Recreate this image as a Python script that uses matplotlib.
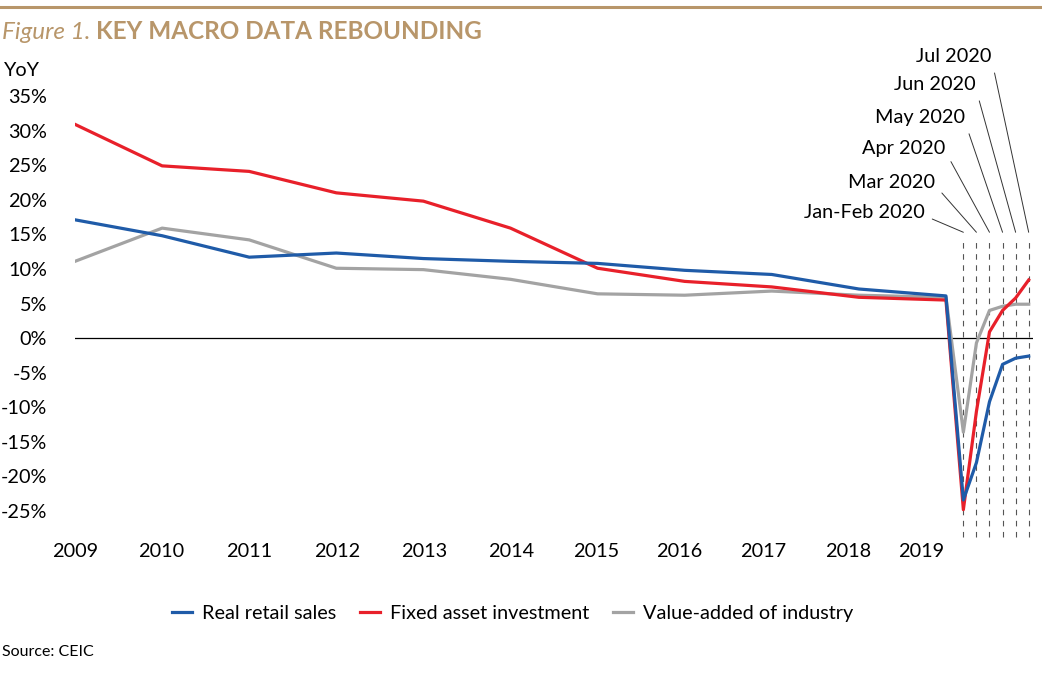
import numpy as np
import matplotlib
matplotlib.use("Agg")
import matplotlib.pyplot as plt

plt.rcParams['font.family'] = ['Lato', 'DejaVu Sans']

# Annual data 2009-2019, then monthly (YTD) 2020
years = ['2009', '2010', '2011', '2012', '2013', '2014', '2015', '2016', '2017', '2018', '2019']
months = ['Jan-Feb 2020', 'Mar 2020', 'Apr 2020', 'May 2020', 'Jun 2020', 'Jul 2020']

retail_annual = [17.1, 14.8, 11.7, 12.3, 11.5, 11.1, 10.8, 9.8, 9.2, 7.1, 6.1]
retail_monthly = [-23.4, -18.0, -9.2, -3.8, -2.9, -2.6]

fai_annual = [30.9, 24.9, 24.1, 21.0, 19.8, 15.9, 10.1, 8.2, 7.4, 5.9, 5.5]
fai_monthly = [-24.8, -10.6, 0.9, 4.0, 5.8, 8.4]

vai_annual = [11.1, 15.9, 14.2, 10.1, 9.9, 8.5, 6.4, 6.2, 6.8, 6.2, 5.9]
vai_monthly = [-13.6, -0.7, 4.0, 4.6, 4.9, 4.9]

# x layout: one unit per year, months squeezed after 2019
x_years = np.arange(len(years))
x_months = 10.2 + 0.15 * np.arange(len(months))
x_all = np.concatenate([x_years, x_months])
# year label positions as drawn in the original (date axis offsets)
year_label_pos = [0, 0.99, 2.0, 3.01, 4.01, 5.01, 5.98, 6.94, 7.9, 8.88, 9.72]

gold = '#B8966A'
blue = '#1F5BA8'
red = '#E8202A'
grey = '#A3A3A3'
fs = 14.3

fig = plt.figure(figsize=(10.42, 6.8), dpi=100)
ax = fig.add_axes([0.072, 0.1976, 0.9194, 0.6714])

ax.plot(x_all, vai_annual + vai_monthly, color=grey, lw=2.3, label='Value-added of industry', zorder=3)
ax.plot(x_all, fai_annual + fai_monthly, color=red, lw=2.3, label='Fixed asset investment', zorder=4)
ax.plot(x_all, retail_annual + retail_monthly, color=blue, lw=2.3, label='Real retail sales', zorder=5)

ax.axhline(0, color='black', lw=0.9, zorder=2)

# dashed month markers
ax.vlines(x_months, -28.8, 14.2, colors='#555555', lw=0.8, linestyles=(0, (5, 5)), zorder=1)

# month labels with leader lines
offsets = [(-39, 20), (-41, 50), (-44, 84), (-38, 115), (-40, 148), (-37, 176)]
for xm, lab, off in zip(x_months, months, offsets):
    ax.annotate(lab, xy=(xm, 15.3), xytext=off, textcoords='offset pixels',
                ha='right', va='center', fontsize=fs,
                arrowprops=dict(arrowstyle='-', color='#333333', lw=0.7,
                                relpos=(1, 0.3), shrinkA=4, shrinkB=0))

ax.set_xlim(0, 11.0)
ax.set_ylim(-30, 36)
ax.set_yticks(np.arange(-25, 40, 5))
ax.set_yticklabels([f'{v}%' for v in range(-25, 40, 5)], fontsize=fs)
ax.set_xticks(year_label_pos)
ax.set_xticklabels(years, fontsize=fs)
ax.tick_params(axis='y', length=0, pad=20)
ax.tick_params(axis='x', length=0, pad=-2)
for s in ax.spines.values():
    s.set_visible(False)

# header
fig.add_artist(plt.Line2D([0, 1], [0.989, 0.989], color=gold, lw=2.2, transform=fig.transFigure))
t1 = fig.text(0.002, 0.943, 'Figure 1. ', color=gold, fontsize=17.5, style='italic',
              va='baseline')
fig.canvas.draw()
bb = t1.get_window_extent().transformed(fig.transFigure.inverted())
fig.text(bb.x1, 0.943, 'KEY MACRO DATA REBOUNDING', color=gold, fontsize=17.5,
         fontweight='bold', va='baseline')
fig.text(0.004, 0.897, 'YoY', fontsize=fs, va='center')

handles, labels = ax.get_legend_handles_labels()
order = [2, 1, 0]
fig.legend([handles[i] for i in order], [labels[i] for i in order],
           loc='center', bbox_to_anchor=(0.492, 0.098), ncol=3, frameon=False,
           fontsize=fs, handlelength=1.0, handletextpad=0.5, columnspacing=1.2)

fig.text(0.002, 0.041, 'Source: CEIC', fontsize=11.5, va='center')

fig.savefig('out.png', dpi=100)
